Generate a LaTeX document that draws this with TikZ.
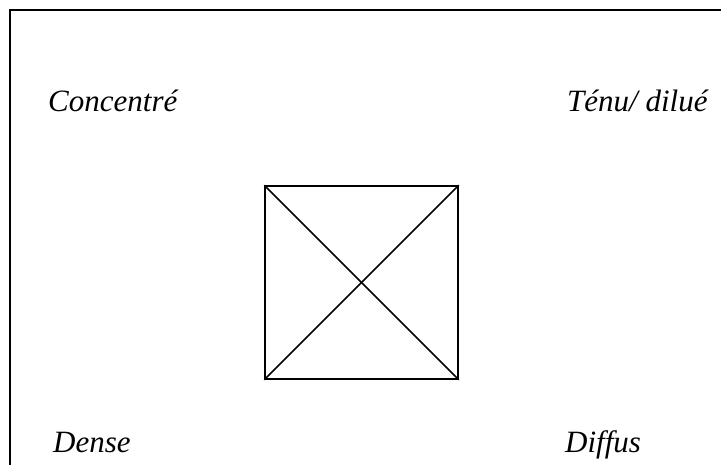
\documentclass[tikz,border=0pt]{standalone}
\usepackage{fontspec}
\setmainfont{Liberation Serif}
\tikzset{
  lbl/.style={anchor=base west, inner sep=0pt, font=\fontsize{31}{36}\selectfont\itshape},
}
\begin{document}
\begin{tikzpicture}[x=1pt,y=-1pt]
\useasboundingbox (0,0) rectangle (721,465);
\coordinate (fl) at (10,465);
\coordinate (fc) at (10,10);
\coordinate (fr) at (721,10);
\draw[line width=2pt] (fl) -- (fc) -- (fr);
\node[draw, line width=1.5pt, minimum width=193pt, minimum height=193pt, inner sep=0pt] (sq) at (361.5,282.5) {};
\draw[line width=1.5pt] (sq.north west) -- (sq.south east);
\draw[line width=1.5pt] (sq.south west) -- (sq.north east);
\node[lbl] (conc) at (48,112) {Concentré};
\node[lbl] (tenu) at (567,112) {Ténu/ dilué};
\node[lbl] (dense) at (53,452) {Dense};
\node[lbl] (diff) at (565,452) {Diffus};
\end{tikzpicture}
\end{document}
